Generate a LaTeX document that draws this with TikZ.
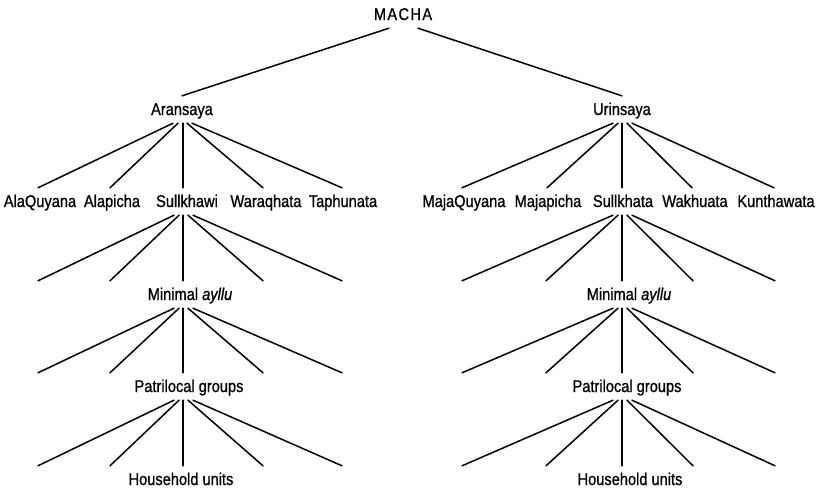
\documentclass[tikz,border=0pt]{standalone}
\usepackage{fontspec}
\setmainfont{Liberation Sans}[FakeStretch=0.86, FakeBold=0.9]
\usetikzlibrary{calc}
\begin{document}
\begin{tikzpicture}[x=1pt,y=-1pt,
  lbl/.style={inner xsep=0pt, inner ysep=7pt, text height=12pt, text depth=1pt,
    anchor=base, font=\fontsize{17}{20}\selectfont},
  link/.style={line width=1.5pt, line cap=round}]
\useasboundingbox (0,0) rectangle (821,490);

% apex
\node[lbl] (macha) at (403,20) {\addfontfeature{LetterSpace=8}MACHA};

% moieties
\node[lbl] (aran) at (182,115) {Aransaya};
\node[lbl] (urin) at (622,115) {Urinsaya};

% column axes
\coordinate (axL) at (183,0);
\coordinate (axR) at (622,0);

% maximal ayllus
\node[lbl] (a1) at (40,207)  {AlaQuyana};
\node[lbl] (a2) at (112,207) {Alapicha};
\node[lbl] (a3) at (187,207) {Sullkhawi};
\node[lbl] (a4) at (266,207) {Waraqhata};
\node[lbl] (a5) at (343,207) {Taphunata};
\node[lbl] (b1) at (464,207) {MajaQuyana};
\node[lbl] (b2) at (548,207) {Majapicha};
\node[lbl] (b3) at (623,207) {Sullkhata};
\node[lbl] (b4) at (695,207) {Wakhuata};
\node[lbl] (b5) at (776,207) {Kunthawata};

% lower levels
\node[lbl] (minL) at (190,300) {Minimal \textit{ayllu}};
\node[lbl] (minR) at (629,300) {Minimal \textit{ayllu}};
\node[lbl] (patL) at (189,392) {Patrilocal groups};
\node[lbl] (patR) at (627,392) {Patrilocal groups};
\node[lbl] (houL) at (181,485) {Household units};
\node[lbl] (houR) at (630,485) {Household units};

% MACHA to the two moieties
\draw[link] ([xshift=-14pt]macha.south) -- (aran.north);
\draw[link] ([xshift=15pt]macha.south) -- (urin.north);

% moieties to their ayllus
\draw[link] ([xshift=-9pt]aran.south) -- ([xshift=-2pt]a1.north);
\draw[link] ([xshift=-4pt]aran.south) -- ([xshift=-2pt]a2.north);
\draw[link] (axL |- aran.south) -- (axL |- a3.north);
\draw[link] ([xshift=5pt]aran.south) -- ([xshift=-3pt]a4.north);
\draw[link] ([xshift=10pt]aran.south) -- ([xshift=-1pt]a5.north);
\draw[link] ([xshift=-9pt]urin.south) -- ([xshift=-2pt]b1.north);
\draw[link] ([xshift=-4pt]urin.south) -- ([xshift=-1pt]b2.north);
\draw[link] (axR |- urin.south) -- (axR |- b3.north);
\draw[link] ([xshift=5pt]urin.south) -- ([xshift=-3pt]b4.north);
\draw[link] ([xshift=10pt]urin.south) -- ([xshift=-2pt]b5.north);

% fans below the Sullkhawi / Sullkhata branches
\foreach \pn/\cn/\an/\tg in {a3/minL/axL/L1, minL/patL/axL/L2, patL/houL/axL/L3}{
  \foreach \s/\e [count=\i] in {-9/-145, -4/-73, 5/80, 10/159}{
    \coordinate (\tg-\i) at ($(\an |- \cn.north)+(\e,0)$);
    \draw[link] ($(\an |- \pn.south)+(\s,0)$) -- (\tg-\i);
  }
  \draw[link] (\an |- \pn.south) -- (\an |- \cn.north);
}
\foreach \pn/\cn/\an/\tg in {b3/minR/axR/R1, minR/patR/axR/R2, patR/houR/axR/R3}{
  \foreach \s/\e [count=\i] in {-9/-160, -4/-76, 5/71, 10/153}{
    \coordinate (\tg-\i) at ($(\an |- \cn.north)+(\e,0)$);
    \draw[link] ($(\an |- \pn.south)+(\s,0)$) -- (\tg-\i);
  }
  \draw[link] (\an |- \pn.south) -- (\an |- \cn.north);
}
\end{tikzpicture}
\end{document}
